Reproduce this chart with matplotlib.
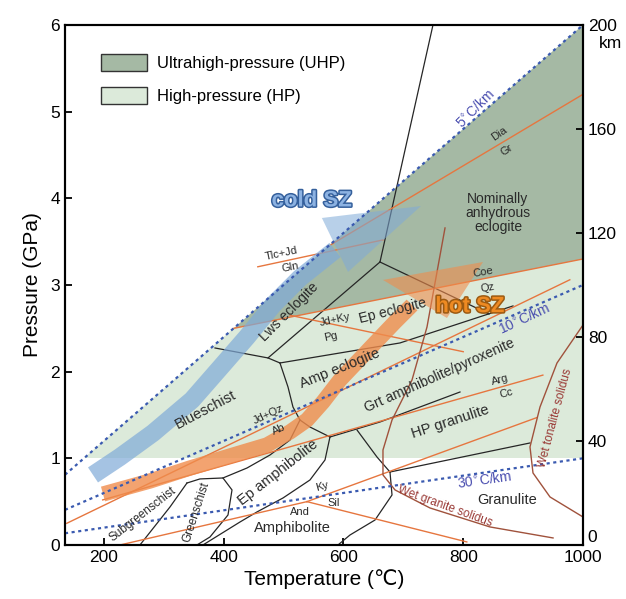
import matplotlib
matplotlib.use("Agg")
import matplotlib.pyplot as plt
import matplotlib.patheffects as pe
from matplotlib.patches import Polygon, Patch

plt.rcParams['font.family'] = ['Liberation Sans', 'DejaVu Sans']

# axis ranges
T_MIN, T_MAX = 135, 1000
P_MAX = 6
KM_MAX = 200

# --- geotherms (endpoints, T degC / P GPa) ---
geo5_T, geo5_P = [135, 1000], [0.81, 6.0]
geo10_T, geo10_P = [135, 1000], [0.405, 3.0]
geo30_T, geo30_P = [135, 1000], [0.135, 1.0]

# --- shaded fields ---
hp_T, hp_P = [166.7, 1000, 1000], [1.0, 1.0, 6.0]
uhp_T, uhp_P = [417, 1000, 1000], [2.50, 3.30, 6.0]

# --- reaction lines (orange) ---
dia_gr_T, dia_gr_P = [578, 1000], [3.46, 5.20]
coe_qz_T, coe_qz_P = [417, 1000], [2.50, 3.30]
tlc_gln_T, tlc_gln_P = [457, 666], [3.21, 3.52]
jdky_pg_T, jdky_pg_P = [511, 800], [2.65, 2.23]
jdqz_ab_T, jdqz_ab_P = [138, 978], [0.25, 3.06]
arg_cc_T, arg_cc_P = [198, 933], [0.52, 1.96]
ky_sil_T, ky_sil_P = [539, 923], [0.50, 1.47]
and_ky_T, and_ky_P = [227, 539], [0.0, 0.50]
sil_and_T, sil_and_P = [539, 806], [0.50, 0.035]

# --- solidi (brown) ---
granite_T = [769.6, 739.5, 714.5, 681.1, 666.0, 666.0, 686.1, 744.5, 844.7, 950.0]
granite_P = [3.658, 2.515, 1.904, 1.442, 1.096, 0.808, 0.635, 0.427, 0.208, 0.081]
tonalite_T = [1000, 956.6, 928.2, 911.5, 916.5, 944.9, 1000]
tonalite_P = [2.538, 2.100, 1.592, 1.131, 0.831, 0.554, 0.323]

# --- facies boundaries (black) ---
facies = [
    ([749.5, 661.0], [6.0, 3.265]),
    ([661.0, 474.0], [3.265, 2.158]),
    ([385.5, 474.0, 494.0], [2.273, 2.158, 2.100]),
    ([494.0, 694.4, 883.1], [2.100, 2.331, 2.758]),
    ([661.0, 766.2, 843.0], [3.265, 2.919, 2.665]),
    ([494.0, 507.4, 515.7, 527.4, 544.1, 577.5], [2.100, 1.823, 1.592, 1.442, 1.361, 1.246]),
    ([577.5, 661.0, 794.6], [1.246, 1.419, 1.765]),
    ([622.6, 656.0, 677.7], [1.327, 1.015, 0.842]),
    ([677.7, 911.5], [0.842, 1.177]),
    ([677.7, 681.1, 652.7, 610.9, 590.9], [0.842, 0.577, 0.288, 0.115, 0.0]),
    ([577.5, 569.2, 544.1, 499.0, 455.6, 427.2, 365.4], [1.246, 0.981, 0.750, 0.542, 0.381, 0.265, 0.0]),
    ([398.8, 438.9, 477.3, 510.7, 527.4], [0.773, 0.888, 1.038, 1.211, 1.442]),
    ([338.7, 360.4, 398.8, 413.9, 407.2, 377.1, 355.4], [0.715, 0.762, 0.773, 0.635, 0.346, 0.092, 0.0]),
    ([338.7, 310.3, 260.2], [0.715, 0.438, 0.0]),
]

# --- subduction zone P-T paths ---
cold_T = [181.8, 226.8, 282.0, 347.1, 393.8, 438.9, 482.3, 527.4, 585.9]
cold_P = [0.808, 1.015, 1.292, 1.673, 2.042, 2.400, 2.769, 3.081, 3.404]
cold_head_T = [564.0, 729.5, 607.6]
cold_head_P = [3.773, 3.911, 3.150]
hot_T = [198.5, 276.9, 343.7, 410.5, 472.3, 510.7, 539.1, 565.8, 594.2, 622.6, 652.7, 686.1, 714.5]
hot_P = [0.588, 0.738, 0.888, 1.027, 1.154, 1.304, 1.442, 1.650, 1.904, 2.111, 2.331, 2.573, 2.769]
hot_head_T = [666.0, 833.0, 772.9]
hot_head_P = [3.058, 3.265, 2.619]

# --- labels: (text, T, P, rotation, size) ---
field_labels = [
    ("Nominally\nanhydrous\neclogite", 858, 3.83, 0, 10),
    ("Lws eclogite", 510, 2.69, 45, 10),
    ("Ep eclogite", 683, 2.70, 14, 10),
    ("Amp eclogite", 594, 2.04, 22, 10.5),
    ("Blueschist", 369, 1.56, 28, 10.5),
    ("Grt amphibolite/pyroxenite", 761, 1.96, 24, 10),
    ("HP granulite", 778, 1.42, 18, 10.5),
    ("Granulite", 873, 0.52, 0, 10.5),
    ("Ep amphibolite", 491, 0.83, 38, 10.5),
    ("Amphibolite", 514, 0.20, 0, 10.5),
    ("Subgreenschist", 265, 0.35, 38, 8.5),
    ("Greenschist", 355, 0.38, 72, 8.5),
]
reaction_labels = [
    ("Dia", 861, 4.75, 35), ("Gr", 873, 4.56, 35),
    ("Coe", 833, 3.15, 10), ("Qz", 840, 2.97, 10),
    ("Tlc+Jd", 497, 3.36, 12), ("Gln", 511, 3.20, 12),
    ("Jd+Ky", 586, 2.60, 12), ("Pg", 578, 2.40, 12),
    ("Jd+Qz", 474, 1.51, 25), ("Ab", 492, 1.33, 25),
    ("Arg", 861, 1.90, 15), ("Cc", 871, 1.75, 15),
    ("Ky", 564, 0.67, 15), ("Sil", 583, 0.49, 0), ("And", 527, 0.38, 0),
]
geo_labels = [
    ("5$^{\\circ}$C/km", 821, 5.04, 45),
    ("10$^{\\circ}$C/km", 902, 2.61, 25),
    ("30$^{\\circ}$C/km", 835, 0.75, 8),
]
solidus_labels = [
    ("Wet granite solidus", 770, 0.44, -20),
    ("Wet tonalite solidus", 953, 1.47, 75),
]

ORANGE = "#e6763f"
BROWN = "#a0523c"
BLUE = "#3a5ab0"
UHP_C = "#a5b9a4"
HP_C = "#dceada"


def main():
    fig = plt.figure(figsize=(6.26, 5.99), dpi=100)
    ax = fig.add_axes([0.1038, 0.0902, 0.8275, 0.8681])

    ax.add_patch(Polygon(list(zip(hp_T, hp_P)), closed=True, fc=HP_C, ec="none", zorder=1))
    ax.add_patch(Polygon(list(zip(uhp_T, uhp_P)), closed=True, fc=UHP_C, ec="none", zorder=1.1))

    for Ts, Ps in facies:
        ax.plot(Ts, Ps, color="#262626", lw=0.9, zorder=2)

    for Ts, Ps in [(dia_gr_T, dia_gr_P), (coe_qz_T, coe_qz_P), (tlc_gln_T, tlc_gln_P),
                   (jdky_pg_T, jdky_pg_P), (jdqz_ab_T, jdqz_ab_P), (arg_cc_T, arg_cc_P),
                   (ky_sil_T, ky_sil_P), (and_ky_T, and_ky_P), (sil_and_T, sil_and_P)]:
        ax.plot(Ts, Ps, color=ORANGE, lw=1.0, zorder=2.2)

    ax.plot(granite_T, granite_P, color=BROWN, lw=1.0, zorder=2.3)
    ax.plot(tonalite_T, tonalite_P, color=BROWN, lw=1.0, zorder=2.3)

    # subduction paths
    ax.plot(cold_T, cold_P, color="#7faad8", alpha=0.7, lw=13,
            solid_capstyle="butt", solid_joinstyle="round", zorder=3)
    ax.add_patch(Polygon(list(zip(cold_head_T, cold_head_P)), closed=True,
                         fc="#7faad8", alpha=0.55, ec="none", zorder=3))
    ax.plot(hot_T, hot_P, color="#f08c4c", alpha=0.8, lw=11,
            solid_capstyle="butt", solid_joinstyle="round", zorder=3)
    ax.add_patch(Polygon(list(zip(hot_head_T, hot_head_P)), closed=True,
                         fc="#f08c4c", alpha=0.6, ec="none", zorder=3))

    for Ts, Ps in [(geo5_T, geo5_P), (geo10_T, geo10_P), (geo30_T, geo30_P)]:
        ax.plot(Ts, Ps, color=BLUE, lw=1.6, ls=(0, (1.4, 1.6)), zorder=4)

    for txt, t, p, rot, fs in field_labels:
        ax.text(t, p, txt, rotation=rot, fontsize=fs, color="#2a2a2a",
                ha="center", va="center", rotation_mode="anchor", zorder=6,
                linespacing=1.0)
    for txt, t, p, rot in reaction_labels:
        ax.text(t, p, txt, rotation=rot, fontsize=8, color="#2a2a2a",
                ha="center", va="center", rotation_mode="anchor", zorder=6)
    for txt, t, p, rot in geo_labels:
        ax.text(t, p, txt, rotation=rot, fontsize=10, color="#4b4fb0",
                ha="center", va="center", rotation_mode="anchor", zorder=6)
    for txt, t, p, rot in solidus_labels:
        ax.text(t, p, txt, rotation=rot, fontsize=8.5, color="#9a3a36",
                ha="center", va="center", rotation_mode="anchor", zorder=6)

    narrow = ["Liberation Sans Narrow", "Liberation Sans", "DejaVu Sans"]
    ax.text(547, 3.97, "cold SZ", fontsize=16, fontweight="bold", color="#8cb2e2",
            family=narrow, ha="center", va="center", zorder=7,
            path_effects=[pe.withStroke(linewidth=2.2, foreground="#35609c")])
    ax.text(811, 2.75, "hot SZ", fontsize=16, fontweight="bold", color="#ee8a22",
            family=narrow, ha="center", va="center", zorder=7,
            path_effects=[pe.withStroke(linewidth=2.2, foreground="#9b5a12")])

    handles = [Patch(fc=UHP_C, ec="#333333", lw=1.0, label="Ultrahigh-pressure (UHP)"),
               Patch(fc=HP_C, ec="#333333", lw=1.0, label="High-pressure (HP)")]
    ax.legend(handles=handles, loc="upper left", bbox_to_anchor=(0.07, 0.945),
              frameon=False, fontsize=12, handlelength=2.75, handleheight=1.2,
              labelspacing=0.95, borderpad=0, borderaxespad=0, handletextpad=0.6)

    ax.set_xlim(T_MIN, T_MAX)
    ax.set_ylim(0, P_MAX)
    ax.set_xticks([200, 400, 600, 800, 1000])
    ax.set_yticks(range(0, 7))
    ax.tick_params(direction="in", length=5, width=1.3, labelsize=12.5, top=False)
    for s in ax.spines.values():
        s.set_linewidth(1.5)
    ax.set_xlabel("Temperature (\u2103)", fontsize=15, labelpad=3)
    ax.set_ylabel("Pressure (GPa)", fontsize=15, labelpad=6)

    ax2 = ax.twinx()
    ax2.set_ylim(0, KM_MAX)
    ax2.set_yticks([0, 40, 80, 120, 160, 200])
    ax2.set_yticklabels(["0", "40", "80", "120", "160", "200"])
    ax2.tick_params(direction="in", length=5, width=1.3, labelsize=12.5)
    ax2.get_yticklabels()[0].set_va("bottom")
    ax2.text(1.03, 0.965, "km", transform=ax.transAxes, fontsize=12.5, ha="left", va="center")
    for s in ax2.spines.values():
        s.set_linewidth(1.5)

    fig.savefig("out.png", dpi=100)


if __name__ == "__main__":
    main()
